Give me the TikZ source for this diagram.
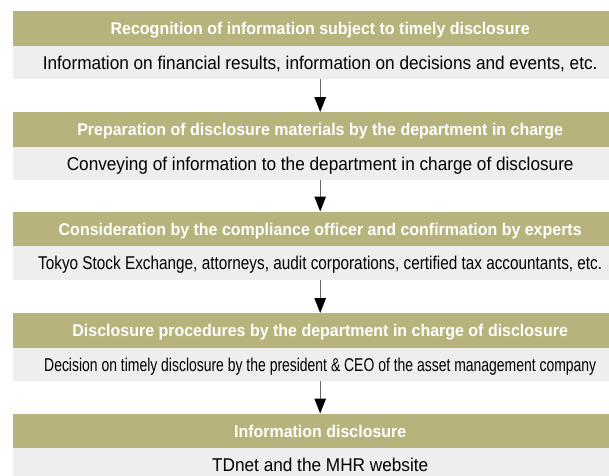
\documentclass[tikz,border=0pt]{standalone}
\usepackage{fontspec}
\usepackage{graphicx}
\setmainfont{Liberation Sans}[FakeStretch=0.93]
\newfontfamily\headfont{Liberation Sans Bold}[FakeStretch=0.94]
\usetikzlibrary{arrows.meta}
\definecolor{olive}{HTML}{B6B37C}
\definecolor{lightgray}{HTML}{EEEEEE}
\definecolor{linegray}{HTML}{666666}
\newcommand\fitline[2]{\resizebox{#1}{\height}{#2}}
\tikzset{
  headbox/.style={fill=olive, text=white, font=\headfont\fontsize{17}{20}\selectfont,
    minimum width=614pt, minimum height=34.5pt, inner sep=0pt, anchor=north west,
    text height=12.2pt, text depth=0pt},
  bodybox/.style={fill=lightgray, text=black, font=\fontsize{18.5}{21}\selectfont,
    minimum width=614pt, minimum height=33.5pt, inner sep=0pt, anchor=north west,
    text height=13.3pt, text depth=0pt},
  flow/.style={draw=linegray, line width=1.2pt,
    -{Triangle[width=11.5pt,length=15pt,color=black]}}
}
\begin{document}
\begin{tikzpicture}[x=1pt,y=-1pt]
\useasboundingbox (0,0) rectangle (609,475);
\node[headbox] (h1) at (13,11) {Recognition of information subject to timely disclosure};
\node[bodybox] (b1) at (13,45.5) {Information on financial results, information on decisions and events, etc.};
\node[headbox] (h2) at (13,112) {Preparation of disclosure materials by the department in charge};
\node[bodybox] (b2) at (13,146.5) {Conveying of information to the department in charge of disclosure};
\node[headbox] (h3) at (13,211.5) {Consideration by the compliance officer and confirmation by experts};
\node[bodybox] (b3) at (13,246) {\fitline{564pt}{Tokyo Stock Exchange, attorneys, audit corporations, certified tax accountants, etc.}};
\node[headbox] (h4) at (13,313) {Disclosure procedures by the department in charge of disclosure};
\node[bodybox] (b4) at (13,347.5) {\fitline{552pt}{Decision on timely disclosure by the president \& CEO of the asset management company}};
\node[headbox] (h5) at (13,413.5) {Information disclosure};
\node[bodybox] (b5) at (13,448) {TDnet and the MHR website};
\draw[flow] (b1.south) -- (h2.north);
\draw[flow] (b2.south) -- (h3.north);
\draw[flow] (b3.south) -- (h4.north);
\draw[flow] (b4.south) -- (h5.north);
\end{tikzpicture}
\end{document}
